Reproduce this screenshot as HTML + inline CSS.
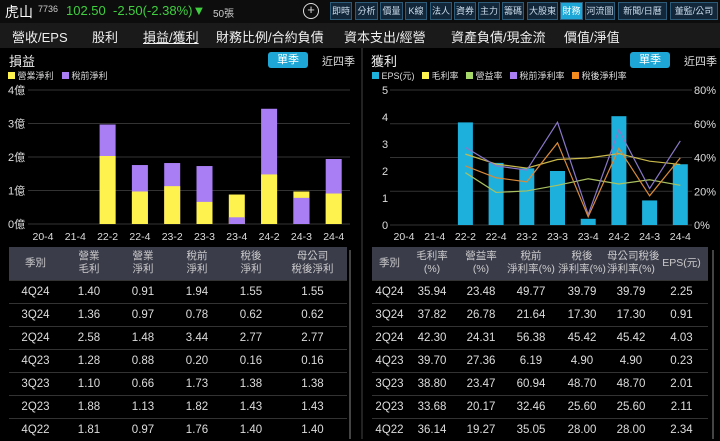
<!DOCTYPE html>
<html><head><meta charset="utf-8">
<style>
*{margin:0;padding:0;box-sizing:border-box}
body{width:720px;height:439px;background:#000;overflow:hidden;font-family:"Liberation Sans","Noto Sans CJK TC",sans-serif;color:#ddd;position:relative}
.abs{position:absolute}
#hdr{left:0;top:0;width:720px;height:23px;background:#0d0d0d}
#tabs{left:0;top:23px;width:720px;height:25px;background:#1a1a1a}
.tb{position:absolute;top:2px;height:18px;border:1px solid #2b5b78;background:#12283a;color:#cde;font-size:9px;line-height:16px;text-align:center;white-space:nowrap;overflow:hidden;z-index:2}
.tab{position:absolute;top:27px;font-size:13px;color:#eee;white-space:nowrap;z-index:2}
.pill{position:absolute;width:40px;height:16px;background:#1ea7d6;color:#fff;font-size:11px;text-align:center;line-height:16px;border-radius:3px}
.t{position:absolute;font-size:11px;color:#ddd;white-space:nowrap}
table{position:absolute;border-collapse:collapse;font-size:11.5px;color:#ddd;table-layout:fixed}
th{background:#3a3c4a;font-weight:normal;height:33px;line-height:13px;color:#ccc;font-size:10.5px;white-space:nowrap}
td{height:23px;text-align:center;border-top:1px solid #333}
</style></head><body>
<div id="hdr" class="abs">
 <span class="abs" style="left:5px;top:2px;font-size:14px;color:#fff">虎山</span>
 <span class="abs" style="left:38px;top:4px;font-size:9px;color:#ccc">7736</span>
 <span class="abs" style="left:66px;top:3px;font-size:13px;color:#3fcf3f">102.50 &nbsp;-2.50(-2.38%)▼</span>
 <span class="abs" style="left:213px;top:5px;font-size:10px;color:#ccc">50張</span>
 <span class="abs" style="left:303px;top:3px;width:16px;height:16px;border:1.5px solid #ddd;border-radius:50%;color:#ddd;font-size:13px;line-height:12px;text-align:center">+</span>
</div>
<div class="tb" style="left:330px;width:22px">即時</div>
<div class="tb" style="left:355px;width:23px">分析</div>
<div class="tb" style="left:380px;width:23px">價量</div>
<div class="tb" style="left:405px;width:22px">K線</div>
<div class="tb" style="left:430px;width:22px">法人</div>
<div class="tb" style="left:454px;width:22px">資券</div>
<div class="tb" style="left:478px;width:22px">主力</div>
<div class="tb" style="left:502px;width:22px">籌碼</div>
<div class="tb" style="left:527px;width:31px">大股東</div>
<div class="tb" style="left:560px;width:23px;background:#1ea7d6;color:#fff">財務</div>
<div class="tb" style="left:585px;width:30px">河流圖</div>
<div class="tb" style="left:618px;width:49px">新聞/日曆</div>
<div class="tb" style="left:670px;width:48px">董監/公司</div>
<div id="tabs" class="abs"></div>
<span class="tab" style="left:12px">營收/EPS</span>
<span class="tab" style="left:92px">股利</span>
<span class="tab" style="left:143px;text-decoration:underline">損益/獲利</span>
<span class="tab" style="left:216px">財務比例/合約負債</span>
<span class="tab" style="left:344px">資本支出/經營</span>
<span class="tab" style="left:451px">資產負債/現金流</span>
<span class="tab" style="left:564px">價值/淨值</span>
<div class="abs" style="left:361px;top:48px;width:2px;height:391px;background:#222"></div>

<span class="abs" style="left:9px;top:51px;font-size:13px;color:#eee">損益</span>
<div class="pill" style="left:268px;top:52px">單季</div>
<span class="abs" style="left:322px;top:53px;font-size:11px;color:#ddd">近四季</span>
<span class="t" style="left:8px;top:69px;font-size:9px"><span style="display:inline-block;width:7px;height:7px;background:#fef24e"></span> 營業淨利</span>
<span class="t" style="left:62px;top:69px;font-size:9px"><span style="display:inline-block;width:7px;height:7px;background:#a97ef5"></span> 稅前淨利</span>

<span class="abs" style="left:371px;top:51px;font-size:13px;color:#eee">獲利</span>
<div class="pill" style="left:630px;top:52px">單季</div>
<span class="abs" style="left:684px;top:53px;font-size:11px;color:#ddd">近四季</span>
<div class="abs" style="left:372px;top:69px;font-size:9px;white-space:nowrap;color:#ddd">
<span style="display:inline-block;width:7px;height:7px;background:#1eb0dc"></span> EPS(元) &nbsp;
<span style="display:inline-block;width:7px;height:7px;background:#fef24e"></span> 毛利率 &nbsp;
<span style="display:inline-block;width:7px;height:7px;background:#a6d96a"></span> 營益率 &nbsp;
<span style="display:inline-block;width:7px;height:7px;background:#a97ef5"></span> 稅前淨利率 &nbsp;
<span style="display:inline-block;width:7px;height:7px;background:#f58b1f"></span> 稅後淨利率</div>

<svg class="abs" style="left:0;top:0" width="720" height="250" id="svg"></svg>

<table style="left:9px;top:247px;width:338px">
<colgroup><col style="width:53px"><col style="width:54px"><col style="width:54px"><col style="width:54px"><col style="width:54px"><col style="width:69px"></colgroup>
<tr><th>季別</th><th>營業<br>毛利</th><th>營業<br>淨利</th><th>稅前<br>淨利</th><th>稅後<br>淨利</th><th>母公司<br>稅後淨利</th></tr>
<tr><td>4Q24</td><td>1.40</td><td>0.91</td><td>1.94</td><td>1.55</td><td>1.55</td></tr>
<tr><td>3Q24</td><td>1.36</td><td>0.97</td><td>0.78</td><td>0.62</td><td>0.62</td></tr>
<tr><td>2Q24</td><td>2.58</td><td>1.48</td><td>3.44</td><td>2.77</td><td>2.77</td></tr>
<tr><td>4Q23</td><td>1.28</td><td>0.88</td><td>0.20</td><td>0.16</td><td>0.16</td></tr>
<tr><td>3Q23</td><td>1.10</td><td>0.66</td><td>1.73</td><td>1.38</td><td>1.38</td></tr>
<tr><td>2Q23</td><td>1.88</td><td>1.13</td><td>1.82</td><td>1.43</td><td>1.43</td></tr>
<tr><td>4Q22</td><td>1.81</td><td>0.97</td><td>1.76</td><td>1.40</td><td>1.40</td></tr>
</table>
<table style="left:372px;top:247px;width:336px">
<colgroup><col style="width:35px"><col style="width:50px"><col style="width:48px"><col style="width:52px"><col style="width:50px"><col style="width:48px"><col style="width:53px"></colgroup>
<tr><th>季別</th><th>毛利率<br>(%)</th><th>營益率<br>(%)</th><th>稅前<br>淨利率(%)</th><th>稅後<br>淨利率(%)</th><th>母公司稅後<br>淨利率(%)</th><th>EPS(元)</th></tr>
<tr><td>4Q24</td><td>35.94</td><td>23.48</td><td>49.77</td><td>39.79</td><td>39.79</td><td>2.25</td></tr>
<tr><td>3Q24</td><td>37.82</td><td>26.78</td><td>21.64</td><td>17.30</td><td>17.30</td><td>0.91</td></tr>
<tr><td>2Q24</td><td>42.30</td><td>24.31</td><td>56.38</td><td>45.42</td><td>45.42</td><td>4.03</td></tr>
<tr><td>4Q23</td><td>39.70</td><td>27.36</td><td>6.19</td><td>4.90</td><td>4.90</td><td>0.23</td></tr>
<tr><td>3Q23</td><td>38.80</td><td>23.47</td><td>60.94</td><td>48.70</td><td>48.70</td><td>2.01</td></tr>
<tr><td>2Q23</td><td>33.68</td><td>20.17</td><td>32.46</td><td>25.60</td><td>25.60</td><td>2.11</td></tr>
<tr><td>4Q22</td><td>36.14</td><td>19.27</td><td>35.05</td><td>28.00</td><td>28.00</td><td>2.34</td></tr>
</table>
<div class="abs" style="left:349px;top:250px;width:2px;height:189px;background:#444"></div>
<div class="abs" style="left:712px;top:250px;width:2px;height:189px;background:#444"></div>

<script>
const categories=["20-4","21-4","22-2","22-4","23-2","23-3","23-4","24-2","24-3","24-4"];
const operatingProfit=[null,null,2.03,0.97,1.13,0.66,0.88,1.48,0.97,0.91];
const pretaxProfit=[null,null,2.97,1.76,1.82,1.73,0.20,3.44,0.78,1.94];
const leftTicks=["0億","1億","2億","3億","4億"];
const eps=[null,null,3.8,2.3,2.1,2.0,0.23,4.03,0.91,2.25];
const grossMargin=[null,null,42,36.1,33.7,38.8,39.7,42.3,37.8,35.9];
const opMargin=[null,null,31,19.3,20.2,23.5,27.4,24.3,26.8,23.5];
const pretaxMargin=[null,null,46,35.1,32.5,60.9,6.2,56.4,21.6,49.8];
const aftertaxMargin=[null,null,35,28,25.6,48.7,4.9,45.4,17.3,39.8];
const epsTicks=["0","1","2","3","4","5"];
const pctTicks=["0%","20%","40%","60%","80%"];
const svg=document.getElementById('svg');
const NS='http://www.w3.org/2000/svg';
function mk(tag,a,parent){const e=document.createElementNS(NS,tag);for(const k in a)e.setAttribute(k,a[k]);(parent||svg).appendChild(e);return e;}
const lx=i=>43+i*32.3, ly=v=>224-v*33.5;
leftTicks.forEach((t,i)=>{const g=mk('line',{x1:28,x2:350,y1:ly(i),y2:ly(i),stroke:'#333','stroke-width':1});

const tx=mk('text',{x:8,y:ly(i)+4,fill:'#ddd','font-size':11});tx.textContent=t;
});
categories.forEach((c,i)=>{
 const tx=mk('text',{x:lx(i),y:240,fill:'#ddd','font-size':10.5,'text-anchor':'middle'});tx.textContent=c;
 
 if(operatingProfit[i]==null)return;
 const pairs=[[operatingProfit[i],'#fef24e','bar-operating'],[pretaxProfit[i],'#a97ef5','bar-pretax']].sort((a,b)=>b[0]-a[0]);
 pairs.forEach(p=>{const r=mk('rect',{x:lx(i)-8,y:ly(p[0]),width:16,height:224-ly(p[0]),fill:p[1]});
 });
});
const rx=i=>404+i*30.7, ry=v=>225-v*27, rp=v=>225-v*1.6875;
pctTicks.forEach((t,i)=>{const v=i*20;const g=mk('line',{x1:390,x2:692,y1:rp(v),y2:rp(v),stroke:'#333','stroke-width':1});

const tx=mk('text',{x:694,y:rp(v)+4,fill:'#ddd','font-size':11});tx.textContent=t;
});
epsTicks.forEach((t,i)=>{const tx=mk('text',{x:382,y:ry(i)+4,fill:'#ddd','font-size':11});tx.textContent=t;
});
categories.forEach((c,i)=>{
 const tx=mk('text',{x:rx(i),y:240,fill:'#ddd','font-size':10.5,'text-anchor':'middle'});tx.textContent=c;
 
 if(eps[i]==null)return;
 const r=mk('rect',{x:rx(i)-7.5,y:ry(eps[i]),width:15,height:225-ry(eps[i]),fill:'#1eb0dc'});
 
});
[[grossMargin,'#c9b84a','line-gross-margin'],[opMargin,'#a8c060','line-operating-margin'],[pretaxMargin,'#8a78c8','line-pretax-margin'],[aftertaxMargin,'#d88a3a','line-aftertax-margin']].forEach(s=>{
 const pts=[];s[0].forEach((v,i)=>{if(v!=null)pts.push(rx(i)+','+rp(v));});
 const p=mk('polyline',{points:pts.join(' '),fill:'none',stroke:s[1],'stroke-width':1.2});
 
});
</script>
</body></html>
